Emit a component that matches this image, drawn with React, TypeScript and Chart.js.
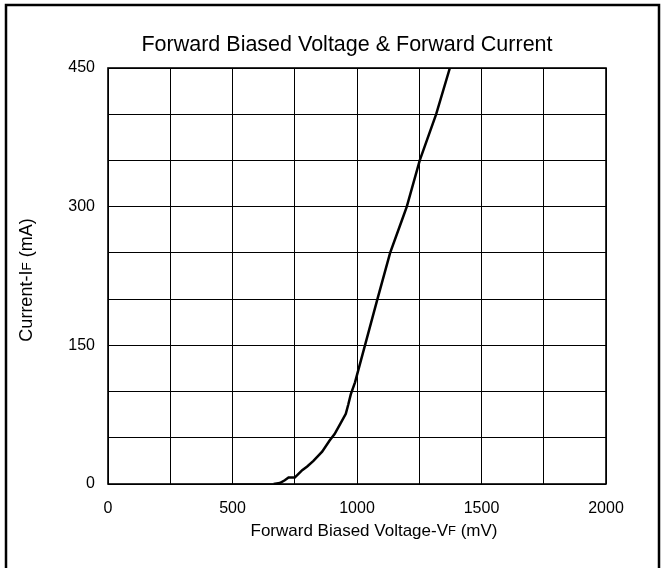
import React, { useEffect, useRef } from "react";
import { Chart, registerables } from "chart.js";

Chart.register(...registerables);

const titleText = "Forward Biased Voltage & Forward Current";
const xTitleParts = ["Forward Biased Voltage-V", "F", " (mV)"];
const yTitleParts = ["Current-I", "F", " (mA)"];

const voltageMv = [450, 665, 690, 710, 725, 750, 765, 780, 800, 825, 860, 890, 910, 935, 955, 965, 975, 992, 1082, 1133, 1180, 1200, 1252, 1318, 1373];
const currentMa = [0, 0, 1, 4, 7, 7, 11, 15, 19, 25, 35, 47, 54, 66, 76, 86, 97, 110, 200, 250, 285, 300, 350, 400, 450];

const xMin = 0;
const xMax = 2000;
const xStep = 250;
const xLabelStep = 500;
const yMin = 0;
const yMax = 450;
const yStep = 50;
const yLabelStep = 150;

const FONT = "'Liberation Sans', Arial, Helvetica, sans-serif";

function drawParts(ctx: CanvasRenderingContext2D, parts: string[], big: number, small: number) {
  const widths = parts.map((p, i) => {
    ctx.font = `${i === 1 ? small : big}px ${FONT}`;
    return ctx.measureText(p).width;
  });
  const total = widths.reduce((a, b) => a + b, 0);
  let x = -total / 2;
  parts.forEach((p, i) => {
    ctx.font = `${i === 1 ? small : big}px ${FONT}`;
    ctx.fillText(p, x, 0);
    x += widths[i];
  });
}

const framePlugin = {
  id: "framePlugin",
  beforeDraw(chart: any) {
    const ctx = chart.ctx;
    ctx.save();
    ctx.fillStyle = "#ffffff";
    ctx.fillRect(0, 0, chart.width, chart.height);
    ctx.strokeStyle = "#000";
    ctx.lineWidth = 2.5;
    ctx.beginPath();
    ctx.moveTo(6, chart.height + 10);
    ctx.lineTo(6, 5);
    ctx.lineTo(659, 5);
    ctx.lineTo(659, chart.height + 10);
    ctx.stroke();
    ctx.restore();
  },
  afterDraw(chart: any) {
    const ctx = chart.ctx;
    const a = chart.chartArea;
    ctx.save();
    ctx.strokeStyle = "#000";
    ctx.lineWidth = 1.6;
    ctx.strokeRect(a.left, a.top, a.right - a.left, a.bottom - a.top);
    ctx.fillStyle = "#000";
    ctx.textBaseline = "middle";
    ctx.textAlign = "left";
    // main title
    ctx.save();
    ctx.translate(347, 45);
    drawParts(ctx, [titleText, "", ""], 21.5, 21.5);
    ctx.restore();
    // x title
    ctx.save();
    ctx.translate(374, 531);
    drawParts(ctx, xTitleParts, 17, 13);
    ctx.restore();
    // y title
    ctx.save();
    ctx.translate(27, 280);
    ctx.rotate(-Math.PI / 2);
    drawParts(ctx, yTitleParts, 18, 13.5);
    ctx.restore();
    ctx.restore();
  },
};

export default function App() {
  const ref = useRef<HTMLCanvasElement | null>(null);
  useEffect(() => {
    if (!ref.current) return;
    const chart = new Chart(ref.current, {
      type: "line",
      data: {
        datasets: [
          {
            data: voltageMv.map((v, i) => ({ x: v, y: currentMa[i] })),
            borderColor: "#000",
            borderWidth: 2.5,
            pointRadius: 0,
            tension: 0,
            fill: false,
            segment: {
              borderWidth: (c: any) => (c.p0.parsed.y === 0 && c.p1.parsed.y === 0 ? 1.2 : 2.5),
            },
          },
        ],
      },
      options: {
        responsive: false,
        animation: false,
        devicePixelRatio: 1,
        layout: { padding: { left: 0, right: 58, top: 68, bottom: 0 } },
        plugins: {
          legend: { display: false },
          tooltip: { enabled: false },
          title: { display: false },
        },
        scales: {
          x: {
            type: "linear",
            min: xMin,
            max: xMax,
            afterFit: (s: any) => {
              s.height = 84;
            },
            grid: { color: "#000", lineWidth: 1, drawTicks: false },
            border: { display: false },
            ticks: {
              stepSize: xStep,
              padding: 15,
              color: "#000",
              font: { family: FONT, size: 16 },
              maxRotation: 0,
              autoSkip: false,
              callback: (v: any) => (Number(v) % xLabelStep === 0 ? String(v) : ""),
            },
          },
          y: {
            type: "linear",
            min: yMin,
            max: yMax,
            afterFit: (s: any) => {
              s.width = 108;
            },
            grid: { color: "#000", lineWidth: 1, drawTicks: false },
            border: { display: false },
            ticks: {
              stepSize: yStep,
              padding: 13,
              color: "#000",
              font: { family: FONT, size: 16 },
              autoSkip: false,
              callback: (v: any) => (Number(v) % yLabelStep === 0 ? String(v) : ""),
            },
          },
        },
      },
      plugins: [framePlugin],
    });
    return () => chart.destroy();
  }, []);
  return (
    <div style={{ position: "absolute", left: 0, top: 0, width: 664, height: 568 }}>
      <canvas ref={ref} width={664} height={568} style={{ display: "block" }} />
    </div>
  );
}
